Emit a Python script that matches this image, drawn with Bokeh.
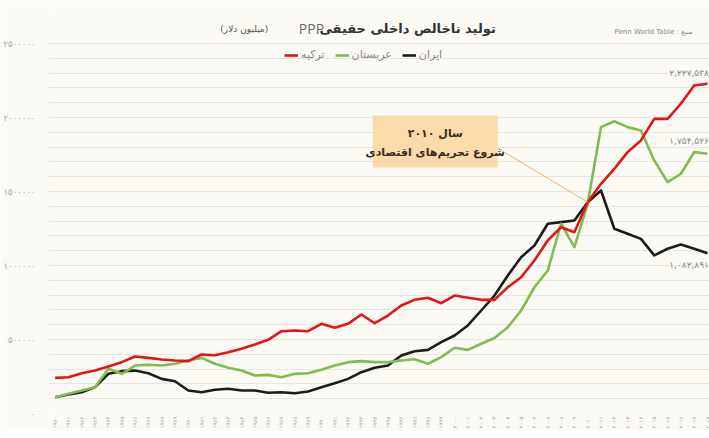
import numpy as np
from bokeh.plotting import figure
from bokeh.models import (Range1d, FixedTicker, Label, BoxAnnotation, Legend,
                          LegendItem, Arrow)
from bokeh.embed import file_html
from bokeh.resources import INLINE

# ---------------- data ----------------
years = list(range(1970, 2020))

iran = [110000, 128000, 144000, 178000, 268000, 286000, 290000, 272000, 234000, 218000,
        155000, 144000, 160000, 167000, 155000, 155000, 140000, 144000, 137000, 149000,
        178000, 205000, 234000, 279000, 309000, 324000, 392000, 421000, 430000, 482000,
        527000, 595000, 696000, 797000, 932000, 1056000, 1135000, 1282000, 1293000, 1304000,
        1428000, 1507000, 1248000, 1214000, 1180000, 1068000, 1113000, 1142000, 1113000, 1082891]

saudi = [110000, 133000, 155000, 178000, 302000, 268000, 324000, 329000, 324000, 336000,
         358000, 376000, 336000, 309000, 290000, 257000, 261000, 245000, 268000, 272000,
         295000, 324000, 347000, 354000, 347000, 347000, 358000, 367000, 336000, 381000,
         444000, 430000, 471000, 510000, 583000, 696000, 853000, 966000, 1282000, 1124000,
         1417000, 1935000, 1975000, 1935000, 1912000, 1710000, 1563000, 1620000, 1766000, 1754526]

turkey = [241000, 245000, 272000, 290000, 318000, 347000, 385000, 376000, 365000, 358000,
          354000, 399000, 394000, 414000, 437000, 466000, 498000, 556000, 561000, 556000,
          606000, 579000, 606000, 669000, 610000, 662000, 730000, 768000, 782000, 745000,
          797000, 782000, 768000, 768000, 853000, 921000, 1034000, 1169000, 1259000, 1225000,
          1428000, 1552000, 1653000, 1766000, 1845000, 1991000, 1991000, 2093000, 2216000, 2227538]

series_names = ["ایران", "عربستان", "ترکیه"]
y_ticks = [0, 500000, 1000000, 1500000, 2000000, 2500000]

title_main = "تولید ناخالص داخلی حقیقی"
title_ppp = "PPP"
title_unit = "(میلیون دلار)"
source_text = "Penn World Table : منبع"
note_line1 = "سال ۲۰۱۰"
note_line2 = "شروع تحریم‌های اقتصادی"
event_year = 2010

# --------------- helpers ---------------
FA = str.maketrans("0123456789", "۰۱۲۳۴۵۶۷۸۹")


def fa(n, sep=False):
    s = f"{n:,}" if sep else str(n)
    return s.translate(FA)


BG = "#fbfaf4"
RED = "#e3141b"
GREEN = "#82bb4f"
BLACK = "#1c1c1c"
FONT = "DejaVu Sans"

p = figure(frame_width=663, frame_height=405,
           x_range=Range1d(1969.5, 2019.3), y_range=Range1d(0, 2736500),
           output_backend="svg", toolbar_location=None,
           min_border_left=35, min_border_right=3, min_border_top=8, min_border_bottom=14,
           background_fill_color=BG, border_fill_color=BG, outline_line_color=None)

# axes
p.xaxis.ticker = FixedTicker(ticks=years)
p.xaxis.major_label_overrides = {y: fa(y) for y in years}
p.xaxis.major_label_orientation = np.pi / 2
p.yaxis.ticker = FixedTicker(ticks=y_ticks)
p.yaxis.major_label_overrides = {t: fa(t) for t in y_ticks}
for ax in (p.xaxis, p.yaxis):
    ax.axis_line_color = None
    ax.major_tick_line_color = None
    ax.minor_tick_line_color = None
    ax.major_label_text_color = "#a8a8a8"
    ax.major_label_text_font = FONT
p.xaxis.major_label_text_font_size = "5.5px"
p.xaxis.major_label_standoff = 3
p.xaxis.major_tick_out = 0
p.xaxis.major_tick_in = 0
p.yaxis.major_label_text_font_size = "8.5px"
p.yaxis.major_label_standoff = 7

p.xgrid.visible = False
p.ygrid.ticker = FixedTicker(ticks=list(range(0, 2500001, 100000)))
p.ygrid.grid_line_color = "#e9e6da"
p.ygrid.grid_line_width = 1

# lines
r_i = p.line(years, iran, line_color=BLACK, line_width=2.6, line_join="round")
r_s = p.line(years, saudi, line_color=GREEN, line_width=2.6, line_join="round")
r_t = p.line(years, turkey, line_color=RED, line_width=2.6, line_join="round")

legend = Legend(items=[LegendItem(label=series_names[2], renderers=[r_t]),
                       LegendItem(label=series_names[1], renderers=[r_s]),
                       LegendItem(label=series_names[0], renderers=[r_i])],
                orientation="horizontal", location=(236, 352),
                background_fill_alpha=0, border_line_alpha=0,
                label_text_font=FONT, label_text_font_size="11px",
                label_text_color="#8a8a8a", glyph_width=14, glyph_height=10,
                spacing=10, padding=0, margin=0, label_standoff=3,
                label_height=12)
p.add_layout(legend)

# title pieces
p.add_layout(Label(x=2003.1, y=2601000, text=title_main, text_align="right",
                   text_baseline="middle", text_font=FONT, text_font_style="bold",
                   text_font_size="13px", text_color="#333333"))
p.add_layout(Label(x=1990.2, y=2604000, text=title_ppp, text_align="right",
                   text_baseline="middle", text_font="Open Sans",
                   text_font_size="14px", text_color="#666666"))
p.add_layout(Label(x=1986.0, y=2596000, text=title_unit, text_align="right",
                   text_baseline="middle", text_font=FONT,
                   text_font_size="9px", text_color="#555555"))
p.add_layout(Label(x=2017.9, y=2581000, text=source_text, text_align="right",
                   text_baseline="middle", text_font=FONT,
                   text_font_size="7px", text_color="#8a8a8a"))

# annotation box
idx = years.index(event_year)
p.add_layout(BoxAnnotation(left=1993.85, right=2003.24, bottom=1662000, top=2014000,
                           fill_color="#fbd7a4", fill_alpha=0.9, line_color=None))
p.add_layout(Arrow(x_start=2003.3, y_start=1790000, x_end=event_year, y_end=turkey[idx],
                   line_color="#f1b56a", line_width=1, end=None))
p.add_layout(Label(x=1998.55, y=1892000, text=note_line1, text_align="center",
                   text_baseline="middle", text_font=FONT, text_font_style="bold",
                   text_font_size="11px", text_color="#3a2a1c"))
p.add_layout(Label(x=1998.55, y=1764000, text=note_line2, text_align="center",
                   text_baseline="middle", text_font=FONT, text_font_style="bold",
                   text_font_size="11px", text_color="#3a2a1c"))

# end value labels
for vals, off in ((turkey, 11), (saudi, 13), (iran, -12)):
    p.add_layout(Label(x=years[-1] + 0.1, y=vals[-1], y_offset=off,
                       text=fa(vals[-1], sep=True), text_align="right",
                       text_baseline="middle", text_font=FONT,
                       text_font_size="9px", text_color="#8a8a8a"))

open("out.html", "w").write(file_html(p, INLINE))
